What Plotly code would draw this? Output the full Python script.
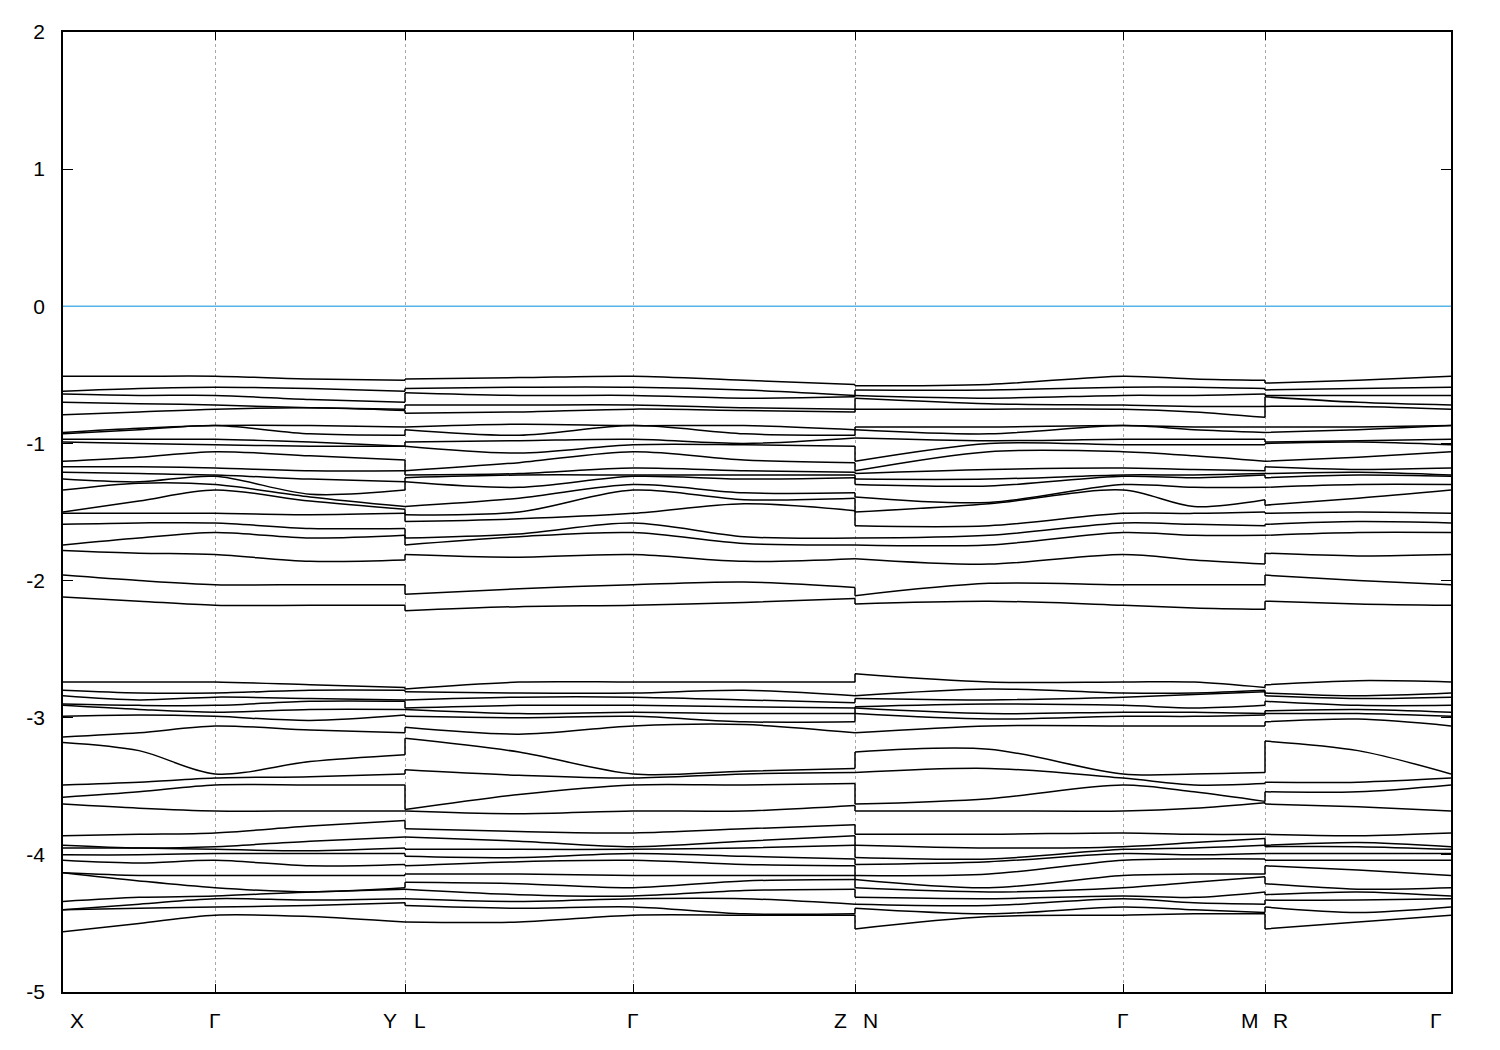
import plotly.graph_objects as go

# ---------------- k-path (high-symmetry points) ----------------
k_label_text = ["X", "Γ", "Y", "L", "Γ", "Z", "N", "Γ", "M", "R", "Γ"]
k_label_pos = [0.0, 1.52, 3.42, 3.42, 5.70, 7.92, 7.92, 10.60, 12.02, 12.02, 13.88]
k_ticks = [0.0, 1.52, 3.42, 5.70, 7.92, 10.60, 12.02, 13.88]

# energy axis ticks
e_tick_vals = [-5, -4, -3, -2, -1, 0, 1, 2]
e_tick_text = ["-5", "-4", "-3", "-2", "-1", "0", "1", "2"]

# k positions of the sampled nodes on each continuous path piece
seg_k_A = [0.0, 0.76, 1.52, 2.47, 3.42]      # X - Γ - Y
seg_k_B = [3.42, 4.56, 5.70, 6.81, 7.92]     # L - Γ - Z
seg_k_C = [7.92, 9.26, 10.60, 11.31, 12.02]  # N - Γ - M
seg_k_D = [12.02, 12.95, 13.88]              # R - Γ

# ---------------- band energies (eV) at each node ----------------
# upper valence group (21 bands)
e_X_up  = [-0.51, -0.62, -0.64, -0.70, -0.79, -0.92, -0.93, -0.97, -0.99, -1.13, -1.17, -1.21, -1.26, -1.34, -1.50, -1.51, -1.59, -1.74, -1.78, -1.96, -2.12]
e_XG_up = [-0.51, -0.60, -0.65, -0.71, -0.77, -0.89, -0.90, -0.97, -1.00, -1.10, -1.17, -1.22, -1.28, -1.29, -1.42, -1.51, -1.58, -1.69, -1.80, -2.00, -2.15]
e_G_up  = [-0.51, -0.59, -0.65, -0.72, -0.75, -0.87, -0.87, -0.97, -1.01, -1.06, -1.18, -1.23, -1.24, -1.30, -1.34, -1.51, -1.58, -1.65, -1.81, -2.03, -2.18]
e_GY_up = [-0.53, -0.60, -0.68, -0.74, -0.74, -0.87, -0.93, -0.99, -1.02, -1.09, -1.20, -1.26, -1.37, -1.39, -1.42, -1.52, -1.62, -1.69, -1.86, -2.03, -2.18]
e_Y_up  = [-0.54, -0.62, -0.70, -0.75, -0.76, -0.88, -0.94, -1.02, -1.02, -1.12, -1.20, -1.28, -1.34, -1.46, -1.48, -1.51, -1.62, -1.67, -1.85, -2.03, -2.18]
e_L_up  = [-0.53, -0.60, -0.63, -0.72, -0.78, -0.88, -0.90, -0.99, -1.02, -1.20, -1.23, -1.25, -1.28, -1.46, -1.52, -1.57, -1.69, -1.74, -1.81, -2.10, -2.22]
e_LG_up = [-0.52, -0.59, -0.65, -0.72, -0.77, -0.86, -0.94, -0.98, -1.07, -1.14, -1.22, -1.23, -1.32, -1.40, -1.50, -1.55, -1.66, -1.68, -1.83, -2.06, -2.19]
e_GZ_up = [-0.54, -0.61, -0.67, -0.74, -0.76, -0.87, -0.93, -1.00, -1.01, -1.12, -1.20, -1.23, -1.26, -1.36, -1.41, -1.44, -1.68, -1.73, -1.86, -2.01, -2.16]
e_Z_up  = [-0.57, -0.65, -0.66, -0.75, -0.77, -0.90, -0.94, -0.96, -1.02, -1.14, -1.21, -1.23, -1.25, -1.36, -1.40, -1.49, -1.69, -1.74, -1.84, -2.05, -2.13]
e_N_up  = [-0.58, -0.61, -0.65, -0.67, -0.75, -0.88, -0.90, -0.96, -1.13, -1.20, -1.22, -1.26, -1.30, -1.39, -1.50, -1.60, -1.69, -1.74, -1.84, -2.11, -2.17]
e_NG_up = [-0.57, -0.61, -0.67, -0.71, -0.75, -0.88, -0.93, -0.98, -1.00, -1.06, -1.19, -1.26, -1.31, -1.43, -1.44, -1.60, -1.67, -1.74, -1.88, -2.02, -2.15]
e_GM_up = [-0.53, -0.59, -0.65, -0.73, -0.77, -0.88, -0.90, -0.97, -1.01, -1.09, -1.19, -1.23, -1.25, -1.32, -1.46, -1.51, -1.59, -1.67, -1.85, -2.03, -2.20]
e_M_up  = [-0.54, -0.60, -0.64, -0.73, -0.81, -0.88, -0.92, -0.97, -1.01, -1.13, -1.20, -1.22, -1.23, -1.32, -1.41, -1.50, -1.60, -1.67, -1.88, -2.03, -2.21]
e_R_up  = [-0.56, -0.61, -0.65, -0.66, -0.73, -0.88, -0.92, -0.99, -1.00, -1.13, -1.17, -1.22, -1.25, -1.32, -1.45, -1.51, -1.59, -1.67, -1.80, -1.96, -2.15]
e_RG_up = [-0.54, -0.60, -0.65, -0.70, -0.73, -0.88, -0.90, -0.98, -0.99, -1.10, -1.19, -1.21, -1.23, -1.30, -1.40, -1.50, -1.57, -1.65, -1.82, -2.00, -2.17]

# lower valence group (22 bands)
e_X_lo  = [-2.74, -2.80, -2.84, -2.90, -2.91, -2.99, -3.14, -3.18, -3.49, -3.58, -3.63, -3.86, -3.93, -3.95, -4.00, -4.04, -4.13, -4.13, -4.34, -4.40, -4.40, -4.56]
e_XG_lo = [-2.74, -2.82, -2.87, -2.91, -2.94, -2.98, -3.11, -3.24, -3.47, -3.54, -3.66, -3.85, -3.95, -3.95, -4.00, -4.06, -4.15, -4.19, -4.31, -4.36, -4.39, -4.50]
e_G_lo  = [-2.74, -2.82, -2.85, -2.91, -2.96, -2.99, -3.06, -3.41, -3.44, -3.49, -3.68, -3.84, -3.94, -3.96, -3.99, -4.04, -4.15, -4.24, -4.30, -4.32, -4.38, -4.44]
e_GY_lo = [-2.76, -2.80, -2.86, -2.88, -2.94, -3.02, -3.09, -3.32, -3.43, -3.49, -3.68, -3.79, -3.90, -3.97, -3.99, -4.08, -4.15, -4.27, -4.27, -4.33, -4.37, -4.45]
e_Y_lo  = [-2.78, -2.80, -2.87, -2.88, -2.94, -2.98, -3.11, -3.27, -3.41, -3.49, -3.68, -3.75, -3.87, -3.95, -3.99, -4.07, -4.15, -4.24, -4.25, -4.32, -4.35, -4.49]
e_L_lo  = [-2.79, -2.81, -2.87, -2.93, -2.94, -2.99, -3.07, -3.15, -3.38, -3.67, -3.68, -3.81, -3.87, -3.96, -4.01, -4.08, -4.14, -4.20, -4.25, -4.32, -4.37, -4.49]
e_LG_lo = [-2.74, -2.82, -2.85, -2.91, -2.97, -3.00, -3.12, -3.25, -3.42, -3.56, -3.70, -3.83, -3.90, -3.96, -4.02, -4.05, -4.14, -4.21, -4.29, -4.34, -4.39, -4.49]
e_GZ_lo = [-2.74, -2.80, -2.87, -2.92, -2.97, -3.03, -3.05, -3.39, -3.41, -3.49, -3.68, -3.81, -3.90, -3.95, -4.01, -4.07, -4.15, -4.19, -4.26, -4.32, -4.43, -4.44]
e_Z_lo  = [-2.74, -2.84, -2.89, -2.93, -2.97, -3.03, -3.11, -3.37, -3.40, -3.48, -3.64, -3.78, -3.86, -3.93, -4.03, -4.08, -4.15, -4.18, -4.25, -4.36, -4.43, -4.44]
e_N_lo  = [-2.68, -2.84, -2.86, -2.92, -2.93, -2.97, -3.11, -3.25, -3.40, -3.63, -3.68, -3.85, -3.93, -4.02, -4.07, -4.15, -4.18, -4.24, -4.31, -4.36, -4.39, -4.54]
e_NG_lo = [-2.74, -2.79, -2.87, -2.90, -2.97, -3.01, -3.06, -3.23, -3.37, -3.59, -3.68, -3.85, -3.95, -4.03, -4.05, -4.14, -4.24, -4.27, -4.32, -4.37, -4.43, -4.45]
e_GM_lo = [-2.74, -2.82, -2.83, -2.93, -2.96, -2.99, -3.06, -3.41, -3.49, -3.54, -3.66, -3.85, -3.91, -3.95, -4.00, -4.03, -4.14, -4.20, -4.31, -4.35, -4.40, -4.43]
e_M_lo  = [-2.78, -2.80, -2.81, -2.91, -2.97, -2.98, -3.06, -3.40, -3.48, -3.61, -3.62, -3.85, -3.88, -3.93, -3.99, -4.03, -4.14, -4.16, -4.27, -4.36, -4.42, -4.43]
e_R_lo  = [-2.76, -2.82, -2.84, -2.88, -2.95, -2.97, -3.03, -3.17, -3.47, -3.54, -3.63, -3.85, -3.93, -3.94, -3.99, -4.04, -4.08, -4.21, -4.29, -4.33, -4.38, -4.54]
e_RG_lo = [-2.73, -2.84, -2.86, -2.91, -2.94, -2.97, -3.01, -3.24, -3.47, -3.54, -3.65, -3.86, -3.91, -3.94, -3.99, -4.04, -4.11, -4.25, -4.27, -4.33, -4.42, -4.49]

fermi_level = 0.0


def node(up, lo):
    return sorted(up + lo, reverse=True)


e_X, e_XG, e_G = node(e_X_up, e_X_lo), node(e_XG_up, e_XG_lo), node(e_G_up, e_G_lo)
e_GY, e_Y = node(e_GY_up, e_GY_lo), node(e_Y_up, e_Y_lo)
e_L, e_LG, e_GZ, e_Z = node(e_L_up, e_L_lo), node(e_LG_up, e_LG_lo), node(e_GZ_up, e_GZ_lo), node(e_Z_up, e_Z_lo)
e_N, e_NG, e_GM, e_M = node(e_N_up, e_N_lo), node(e_NG_up, e_NG_lo), node(e_GM_up, e_GM_lo), node(e_M_up, e_M_lo)
e_R, e_RG = node(e_R_up, e_R_lo), node(e_RG_up, e_RG_lo)

segments = [
    (seg_k_A, [e_X, e_XG, e_G, e_GY, e_Y]),
    (seg_k_B, [e_L, e_LG, e_G, e_GZ, e_Z]),
    (seg_k_C, [e_N, e_NG, e_G, e_GM, e_M]),
    (seg_k_D, [e_R, e_RG, e_G]),
]
jumps = [(3.42, e_Y, e_L), (7.92, e_Z, e_N), (12.02, e_M, e_R)]
n_bands = len(e_X)

fig = go.Figure()

# Fermi level
fig.add_shape(type="line", xref="paper", x0=0, x1=1, yref="y", y0=fermi_level, y1=fermi_level,
              line=dict(color="#56B4E9", width=1.5), layer="above")

for ks, nodes in segments:
    xs, ys = [], []
    for b in range(n_bands):
        xs += ks + [None]
        ys += [nd[b] for nd in nodes] + [None]
    fig.add_trace(go.Scatter(x=xs, y=ys, mode="lines",
                             line=dict(color="black", width=1.5, shape="spline", smoothing=0.9),
                             connectgaps=False, hoverinfo="skip", showlegend=False))

jx, jy = [], []
for k, left, right in jumps:
    for b in range(n_bands):
        jx += [k, k, None]
        jy += [left[b], right[b], None]
fig.add_trace(go.Scatter(x=jx, y=jy, mode="lines", line=dict(color="black", width=1.5),
                         hoverinfo="skip", showlegend=False))

label_shift = [14, 0, -15, 15, 0, -15, 15, 0, -15, 15, -15]
for txt, kp, sh in zip(k_label_text, k_label_pos, label_shift):
    fig.add_annotation(x=kp, y=0, xref="x", yref="paper", text=txt, showarrow=False,
                       xshift=sh, yshift=-28, yanchor="middle", xanchor="center",
                       font=dict(family="Liberation Sans Narrow, Liberation Sans, Arial", size=21, color="black"))

fig.update_layout(
    width=1500, height=1050,
    margin=dict(l=55, r=57, t=20, b=66),
    paper_bgcolor="white", plot_bgcolor="white",
    showlegend=False,
    xaxis=dict(range=[0, 13.88], tickvals=k_ticks, showticklabels=False,
               ticks="inside", ticklen=8, tickcolor="black",
               showgrid=True, gridcolor="#a8a8a8", gridwidth=1, griddash="dot",
               showline=True, linecolor="black", linewidth=1.5, mirror="ticks", zeroline=False),
    yaxis=dict(range=[-5, 2], tickvals=e_tick_vals, ticktext=e_tick_text,
               ticks="inside", ticklen=10, tickcolor="black",
               showgrid=False, zeroline=False,
               showline=True, linecolor="black", linewidth=1.5, mirror="ticks",
               tickfont=dict(family="Liberation Sans, Arial", size=21, color="black"),
               ticklabelstandoff=12),
)

fig.write_html("out.html")
